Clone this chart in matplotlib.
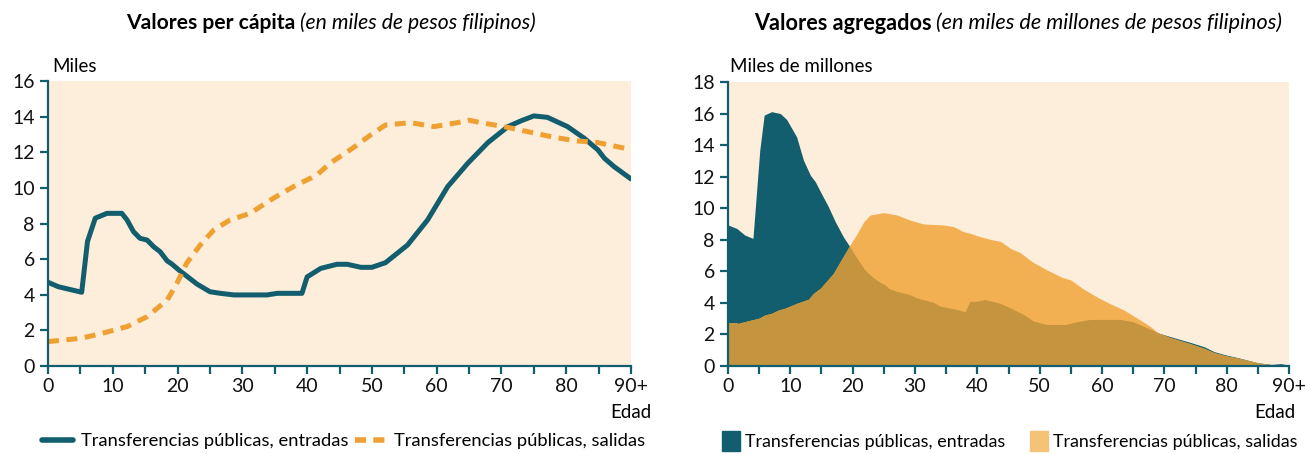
import numpy as np
import matplotlib
matplotlib.use('Agg')
import matplotlib.pyplot as plt
from matplotlib.lines import Line2D
from matplotlib.patches import Patch

plt.rcParams['font.family'] = ['Lato', 'DejaVu Sans']

# colores
teal = '#125e6e'
naranja_linea = '#f0a030'
naranja_area = '#f2b052'
solape = '#c4943e'
fondo = '#fdeedc'

# --- valores per capita (miles de pesos) ---
edad_pc_ent = [0, 1.6, 5.2, 6.1, 7.3, 9.1, 11.4, 12.2, 13.2, 14.2, 15.3, 16.3, 17.3, 18.4,
               19.1, 20.2, 23, 25, 26.6, 28.7, 33.8, 35.4, 39.2, 40, 42.1, 44.6, 46.2, 48.3,
               50, 52.1, 55.5, 58.6, 61.7, 64.8, 67.9, 71, 73, 75, 77.1, 80.2, 82.8, 84.9,
               85.9, 87.4, 90]
pc_entradas = [4.7, 4.45, 4.14, 7.0, 8.3, 8.57, 8.57, 8.2, 7.54, 7.17, 7.07, 6.7, 6.42, 5.9,
               5.73, 5.39, 4.6, 4.17, 4.08, 3.99, 3.99, 4.08, 4.08, 5.0, 5.48, 5.71, 5.71, 5.54,
               5.54, 5.8, 6.79, 8.2, 10.07, 11.38, 12.54, 13.44, 13.76, 14.04, 13.96, 13.44,
               12.78, 12.13, 11.66, 11.19, 10.5]

edad_pc_sal = [0, 5, 8, 12.2, 15.3, 18.4, 19.9, 21.4, 23.5, 25.6, 28.1, 31.2, 34.8, 37.9,
               41.5, 43.6, 47, 49.8, 52.1, 56, 59.6, 63.2, 65, 66.8, 70.4, 74, 77.6, 81.2,
               84.9, 90]
pc_salidas = [1.37, 1.55, 1.8, 2.21, 2.77, 3.7, 4.64, 5.77, 6.79, 7.64, 8.2, 8.57, 9.42, 10.07,
              10.72, 11.4, 12.22, 12.97, 13.53, 13.66, 13.44, 13.66, 13.8, 13.66, 13.44, 13.16,
              12.88, 12.65, 12.54, 12.15]

# --- valores agregados (miles de millones de pesos) ---
edad_ag_ent = [0, 1.4, 2.7, 4.0, 5.1, 5.8, 7, 8.4, 9.4, 11, 12.1, 13.2, 14, 15.1, 16.1, 17.2,
               18.5, 19.9, 20.9, 22, 23.1, 24.2, 25.2, 26, 27.1, 29.2, 30.3, 33, 34.1, 36.8,
               38.1, 38.9, 40, 41.3, 43.7, 45.9, 47.5, 49.1, 51.2, 54.2, 56, 58.2, 63, 65.1,
               67.3, 68.9, 71, 74.3, 76.4, 78, 79.9, 81.8, 85, 87.2, 88.7, 90]
ag_entradas = [8.94, 8.72, 8.3, 8.09, 13.69, 15.9, 16.12, 16.0, 15.63, 14.53, 13.05, 12.1,
               11.68, 10.84, 10.1, 9.15, 8.19, 7.35, 6.72, 6.08, 5.66, 5.34, 5.13, 4.86, 4.71,
               4.5, 4.29, 4.01, 3.76, 3.55, 3.4, 4.07, 4.07, 4.18, 3.95, 3.55, 3.23, 2.81, 2.6,
               2.6, 2.77, 2.92, 2.92, 2.77, 2.39, 2.11, 1.86, 1.48, 1.22, 0.91, 0.7, 0.53, 0.21,
               0.1, 0.15, 0.05]

edad_ag_sal = [0, 1.6, 3.8, 4.9, 5.9, 7, 8.1, 9.1, 10, 11, 12.9, 13.7, 14.8, 16.9, 18.3, 19.9,
               20.9, 21.8, 22.8, 25, 27.1, 29.2, 31.4, 34.6, 36.2, 37.8, 38.9, 40.5, 42.6, 43.7,
               45.3, 46.9, 48.8, 51.2, 53.6, 55, 57.1, 59.3, 61.4, 63.5, 65.7, 67.8, 69, 71,
               74.3, 76.4, 78, 79.9, 81.8, 85, 87.2, 90]
ag_salidas = [2.7, 2.7, 2.92, 3.02, 3.23, 3.34, 3.55, 3.66, 3.8, 3.97, 4.23, 4.6, 4.92, 5.87,
              6.82, 7.88, 8.51, 9.15, 9.57, 9.72, 9.57, 9.25, 9.0, 8.94, 8.83, 8.51, 8.4, 8.19,
              7.98, 7.9, 7.46, 7.18, 6.61, 6.08, 5.62, 5.45, 4.86, 4.35, 3.93, 3.55, 3.02, 2.49,
              2.1, 1.8, 1.4, 1.12, 0.85, 0.65, 0.5, 0.2, 0.08, 0.04]

xticks = list(range(0, 91, 5))
xlabels = ['0' if t == 0 else ('90+' if t == 90 else (str(t) if t % 10 == 0 else '')) for t in xticks]
leyenda = ['Transferencias públicas, entradas', 'Transferencias públicas, salidas']

W, H = 1305, 454
fig = plt.figure(figsize=(W / 100, H / 100), dpi=100)


def px_box(x0, x1, ytop, ybot):
    return [x0 / W, 1 - ybot / H, (x1 - x0) / W, (ybot - ytop) / H]


ax1 = fig.add_axes(px_box(48, 631, 81, 366))
ax2 = fig.add_axes(px_box(728, 1289, 82, 366))

for ax in (ax1, ax2):
    ax.set_facecolor(fondo)
    for s in ('top', 'right'):
        ax.spines[s].set_visible(False)
    for s in ('left', 'bottom'):
        ax.spines[s].set_color(teal)
        ax.spines[s].set_linewidth(1.6)
    ax.set_xlim(0, 90)
    ax.set_xticks(xticks)
    ax.set_xticklabels(xlabels)
    ax.tick_params(axis='both', colors=teal, width=1.6, length=6, labelcolor='#111111',
                   labelsize=14)
    ax.tick_params(axis='x', pad=2.5)

# izquierda
ax1.plot(edad_pc_ent, pc_entradas, color=teal, lw=3.6, solid_capstyle='round',
         solid_joinstyle='round')
ax1.plot(edad_pc_sal, pc_salidas, color=naranja_linea, lw=3.6, dashes=(2.2, 1.5))
ax1.set_ylim(0, 16)
ax1.set_yticks(range(0, 17, 2))

# derecha
area_ent = ax2.fill_between(edad_ag_ent, ag_entradas, 0, color=teal, lw=0)
ax2.fill_between(edad_ag_sal, ag_salidas, 0, color=naranja_area, lw=0)
ov = ax2.fill_between(edad_ag_sal, ag_salidas, 0, color=solape, lw=0)
ov.set_clip_path(area_ent.get_paths()[0], ax2.transData)
ax2.set_ylim(0, 18)
ax2.set_yticks(range(0, 19, 2))

# titulos: parte en negrita + parte en cursiva, centrados
renderer = fig.canvas.get_renderer()


def titulo(xc, negrita, cursiva, fs):
    y = 1 - 23 / H
    t1 = fig.text(0, y, negrita, fontweight='bold', ha='left', va='center', fontsize=fs)
    t2 = fig.text(0, y, cursiva, style='italic', ha='left', va='center', fontsize=fs)
    w1 = t1.get_window_extent(renderer).width
    w2 = t2.get_window_extent(renderer).width
    gap = 5
    x0 = xc - (w1 + gap + w2) / 2
    t1.set_x(x0 / W)
    t2.set_x((x0 + w1 + gap) / W)


titulo(331, 'Valores per cápita', '(en miles de pesos filipinos)', 15.2)
titulo(1018, 'Valores agregados', '(en miles de millones de pesos filipinos)', 15.6)

fig.text(52 / W, 1 - 66 / H, 'Miles', ha='left', va='center', fontsize=13.5)
fig.text(730 / W, 1 - 66 / H, 'Miles de millones', ha='left', va='center', fontsize=13.5)
fig.text(651 / W, 1 - 413 / H, 'Edad', ha='right', va='center', fontsize=13.5)
fig.text(1296 / W, 1 - 413 / H, 'Edad', ha='right', va='center', fontsize=13.5)

# leyendas
h1 = [Line2D([], [], color=teal, lw=4, solid_capstyle='round'),
      Line2D([], [], color=naranja_linea, lw=4, dashes=(2.0, 1.3))]
for h, lab, x0 in zip(h1, leyenda, [42, 355]):
    fig.legend([h], [lab], loc='center left', bbox_to_anchor=(x0 / W, 1 - 441 / H),
               frameon=False, fontsize=13.2, handlelength=1.7, handletextpad=0.45,
               borderaxespad=0, borderpad=0)

h2 = [Patch(color=teal), Patch(color='#f5c378')]
for h, lab, x0 in zip(h2, leyenda, [722, 1030]):
    fig.legend([h], [lab], loc='center left', bbox_to_anchor=(x0 / W, 1 - 441 / H),
               frameon=False, fontsize=12.9, handlelength=1.0, handleheight=1.3,
               handletextpad=0.3, borderaxespad=0, borderpad=0)

fig.savefig('out.png', dpi=100)
